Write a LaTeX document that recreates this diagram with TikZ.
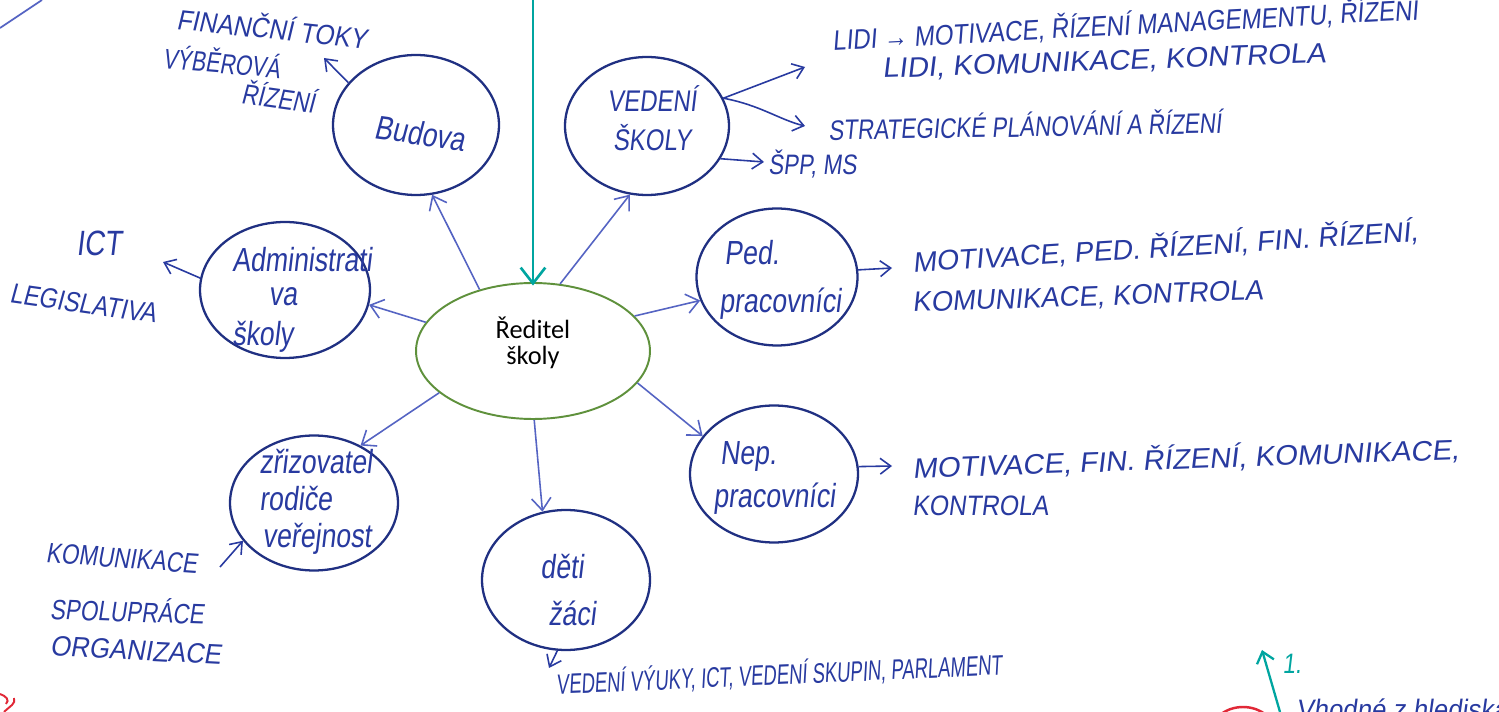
\documentclass[tikz,border=0pt]{standalone}
\usepackage{fontspec}
\setmainfont{Carlito}
\newfontfamily\hand{Liberation Sans}[FakeStretch=0.8,FakeSlant=0.12]
\usetikzlibrary{arrows.meta,shapes.geometric}
\definecolor{ink}{RGB}{40,58,160}
\definecolor{circ}{RGB}{32,48,130}
\definecolor{arr}{RGB}{85,100,195}
\definecolor{grn}{RGB}{95,145,60}
\definecolor{teal2}{RGB}{0,165,160}
\definecolor{redink}{RGB}{225,40,55}
\begin{document}
\begin{tikzpicture}[x=0.02cm,y=-0.02cm,
  bub/.style={draw=circ,ellipse,line width=1.3pt,inner sep=0pt},
  lab/.style={text=ink,font=\hand\fontsize{19}{21}\selectfont,align=center,inner sep=0pt},
  capl/.style={text=ink,font=\hand\fontsize{17}{20}\selectfont,align=center,inner sep=0pt},
  note/.style={text=ink,font=\hand\fontsize{16}{18}\selectfont,anchor=west,inner sep=0pt},
  con/.style={draw=arr,line width=0.9pt,-{Straight Barb[length=7pt,width=11pt]}},
  ann/.style={draw=ink,line width=0.9pt,-{Straight Barb[length=6pt,width=9pt]}},
]
\useasboundingbox (0,0) rectangle (1499,712);
\clip (0,0) rectangle (1499,712);
\fill[white] (0,0) rectangle (1499,712);

% central node
\node[draw=grn,ellipse,line width=1.1pt,minimum width=4.68cm,minimum height=2.72cm] (R) at (533,351) {};
\node[font=\fontsize{15}{15}\selectfont,align=center,inner sep=0pt] (tR) at (533,343) {Ředitel\\školy};

% satellite circles
\node[bub,minimum width=3.32cm,minimum height=2.8cm] (B) at (416,125) {};
\node[bub,minimum width=3.28cm,minimum height=2.76cm] (V) at (647,126) {};
\node[bub,minimum width=3.4cm,minimum height=2.72cm] (A) at (285,290) {};
\node[bub,minimum width=3.22cm,minimum height=2.74cm] (P) at (777,277) {};
\node[bub,minimum width=3.36cm,minimum height=2.74cm] (N) at (774,474) {};
\node[bub,minimum width=3.36cm,minimum height=2.7cm] (Z) at (314,503) {};
\node[bub,minimum width=3.36cm,minimum height=2.8cm] (D) at (566,580) {};

% circle labels
\node[lab,rotate=-8] (tB) at (420,133) {Budova};
\node[capl] (tV) at (652,118) {VEDENÍ\\[2pt]ŠKOLY};
\node[lab,align=left] (tA) at (302,300) {Administrati\\[-2pt]\hspace{1.1em}va\\[2pt]školy};
\node[lab,align=left,anchor=west] (tP) at (719,280) {\hspace{0.15em}Ped.\\[6pt]pracovníci};
\node[lab,align=left,anchor=west] (tN) at (713,478) {\hspace{0.2em}Nep.\\[4pt]pracovníci};
\node[lab,align=left,anchor=west] (tZ) at (259,502) {zřizovatel\\rodiče\\\hspace{0.1em}veřejnost};
\node[lab] (tD) at (562,590) {děti\\[6pt]\hspace{0.6em}žáci};

% connectors from centre
\draw[con] (R.131) -- (B.-77);
\draw[con] (R.68) -- (V.-104);
\draw[con] (R.165) -- (A.-10);
\draw[con] (R.19) -- (P.197);
\draw[con] (R.-17) -- (N.152);
\draw[con] (R.204) -- (Z.51);
\draw[con] (R.-89) -- (D.109);

% teal arrow from top
\coordinate (T0) at (533,0);
\draw[teal2,line width=1.5pt,-{Straight Barb[length=9pt,width=14pt]}] (T0) -- ([yshift=-2pt]R.north);

% top-left stroke
\coordinate (tl1) at (0,28);
\coordinate (tl2) at (42,0);
\draw[arr,line width=1pt] (tl1) -- (tl2);

% Budova notes
\coordinate (bE) at (324,58);
\draw[ann] (B.148) -- (bE);
\node[note,rotate=-6,xscale=1.1] (n1) at (177,17) {FINANČNÍ TOKY};
\node[note,rotate=-5,xscale=0.95] (n2) at (163,56) {VÝBĚROVÁ};
\node[note,rotate=-8] (n3) at (242,91) {ŘÍZENÍ};

% Vedeni notes
\coordinate (v1) at (805,67);
\coordinate (v2) at (805,126);
\coordinate (v3) at (764,162);
\draw[ann] (V.20) -- (v1);
\draw[ann] (V.20) .. controls (760,105) and (780,120) .. (v2);
\draw[ann] (V.-24) -- (v3);
\node[note,rotate=3,xscale=1.07] (n4) at (832,40) {LIDI → MOTIVACE, ŘÍZENÍ MANAGEMENTU, ŘÍZENÍ};
\node[note,rotate=2,xscale=1.3] (n5) at (882,70) {LIDI, KOMUNIKACE, KONTROLA};
\node[note,rotate=1] (n6) at (828,128) {STRATEGICKÉ PLÁNOVÁNÍ A ŘÍZENÍ};
\node[note] (n7) at (768,164) {ŠPP, MS};

% Administrativa notes
\coordinate (a1) at (163,262);
\draw[ann] (A.172) -- (a1);
\node[note,font=\hand\fontsize{20}{22}\selectfont] (n8) at (76,243) {ICT};
\node[note,rotate=-8,xscale=1.05] (n9) at (10,293) {LEGISLATIVA};

% Ped notes
\coordinate (p1) at (892,268);
\draw[ann] (P.5) -- (p1);
\node[note,rotate=3.5,xscale=1.26] (n10) at (912,262) {MOTIVACE, PED. ŘÍZENÍ, FIN. ŘÍZENÍ,};
\node[note,rotate=2,xscale=1.22] (n11) at (912,304) {KOMUNIKACE, KONTROLA};

% Nep notes
\coordinate (q1) at (892,466);
\draw[ann] (N.5) -- (q1);
\node[note,rotate=2,xscale=1.3] (n12) at (912,468) {MOTIVACE, FIN. ŘÍZENÍ, KOMUNIKACE,};
\node[note,xscale=1.1] (n13) at (912,506) {KONTROLA};

% Zrizovatel notes
\coordinate (z1) at (220,567);
\draw[ann] (z1) -- (Z.208);
\node[note,rotate=-4] (n14) at (46,553) {KOMUNIKACE};
\node[note,rotate=-2] (n15) at (50,607) {SPOLUPRÁCE};
\node[note,rotate=-3,xscale=1.15] (n16) at (50,646) {ORGANIZACE};

% deti notes
\coordinate (d1) at (549,668);
\draw[ann] (D.-97) -- (d1);
\node[note,rotate=2.5,xscale=0.82] (n17) at (556,684) {VEDENÍ VÝUKY, ICT, VEDENÍ SKUPIN, PARLAMENT};

% bottom-right fragments
\coordinate (t1) at (1280,712);
\coordinate (t2) at (1262,650);
\draw[teal2,line width=1.3pt,-{Straight Barb[length=6pt,width=10pt]}] (t1) -- (t2);
\node[text=teal2,font=\hand\fontsize{16}{18}\selectfont,inner sep=0pt] (n18) at (1292,664) {1.};
\draw[redink,line width=1.4pt] (1243,735) ellipse [x radius=0.66cm,y radius=0.56cm];
\node[note,anchor=base west,xscale=1.15] (n19) at (1296,720) {Vhodné z hlediska};

% bottom-left red fragment
\draw[redink,line width=1.1pt] (0,694) .. controls (6,696) and (10,700) .. (6,704);
\draw[redink,line width=1.1pt] (4,712) .. controls (10,706) and (16,704) .. (14,698);
\end{tikzpicture}
\end{document}
